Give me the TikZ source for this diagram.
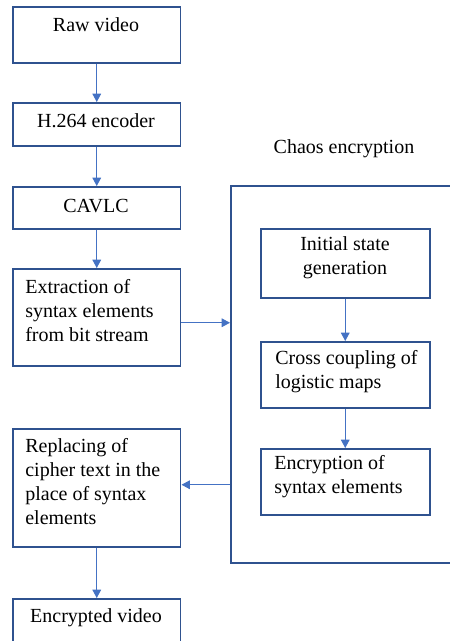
\documentclass[tikz,border=0pt]{standalone}
\usepackage{fontspec}
\setmainfont{Liberation Serif}
\usepackage{tikz}
\usetikzlibrary{arrows.meta}

\definecolor{boxblue}{RGB}{47,82,143}
\definecolor{arrowblue}{RGB}{68,114,196}

\tikzset{
    box/.style={draw=boxblue, line width=0.9pt, anchor=north west, inner sep=0pt},
    txt/.style={inner sep=0pt, font=\rmfamily\fontsize{12pt}{14.4pt}\selectfont},
    flow/.style={draw=arrowblue, line width=0.6pt, -{Triangle[width=5.2pt,length=5pt]}}
}

\begin{document}
\begin{tikzpicture}[x=0.6pt, y=-0.6pt]
            \useasboundingbox (0,0) rectangle (449,641);

            % Left column boxes
            \node[box, minimum width=100.8pt, minimum height=33.6pt] (raw) at (12,6) {};
            \node[box, minimum width=100.8pt, minimum height=25.8pt] (enc) at (12,102) {};
            \node[box, minimum width=100.8pt, minimum height=25.2pt] (cavlc) at (12,186) {};
            \node[box, minimum width=100.8pt, minimum height=58.2pt] (extract) at (12,268) {};
            \node[box, minimum width=100.8pt, minimum height=70.8pt] (replace) at (12,428) {};
            \node[box, minimum width=100.8pt, minimum height=26.4pt] (encvid) at (12,598) {};

            % Chaos encryption block (runs off the right edge)
            \node[box, minimum width=138pt, minimum height=226.2pt] (chaos) at (230,185) {};
            \node[txt] (chaoslabel) at (344,149) {Chaos encryption};

            \node[box, minimum width=101.4pt, minimum height=41.4pt] (init) at (260,228) {};
            \node[box, minimum width=101.4pt, minimum height=39.6pt] (cross) at (260,341) {};
            \node[box, minimum width=101.4pt, minimum height=39.6pt] (encsyn) at (260,448) {};

            % Texts
            \node[txt] (rawtxt) at (96,25) {Raw video};
            \node[txt] (enctxt) at (96,121) {H.264 encoder};
            \node[txt] (cavlctxt) at (96,206) {CAVLC};
            \node[txt, anchor=west, align=left] (extracttxt) at (25,311)
                {Extraction of\\syntax elements\\from bit stream};
            \node[txt, anchor=west, align=left] (replacetxt) at (25,482)
                {Replacing of\\cipher text in the\\place of syntax\\elements};
            \node[txt] (encvidtxt) at (96,618) {Encrypted video};

            \node[txt, align=center] (inittxt) at (345,258) {Initial state\\generation};
            \node[txt, anchor=west, align=left] (crosstxt) at (275,372) {Cross coupling of\\logistic maps};
            \node[txt, anchor=west, align=left] (encsyntxt) at (274,477) {Encryption of\\syntax elements};

            % Arrows
            \draw[flow] (raw) -- (enc);
            \draw[flow] (enc) -- (cavlc);
            \draw[flow] (cavlc) -- (extract);
            \draw[flow] ([yshift=-3.3pt]extract.east) -- ([yshift=-3.3pt]extract.east -| chaos.west);
            \draw[flow] (init) -- (cross);
            \draw[flow] (cross) -- (encsyn);
            \draw[flow] ([yshift=1.8pt]replace.east -| chaos.west) -- ([yshift=1.8pt]replace.east);
            \draw[flow] (replace) -- (encvid);

        \end{tikzpicture}
\end{document}
